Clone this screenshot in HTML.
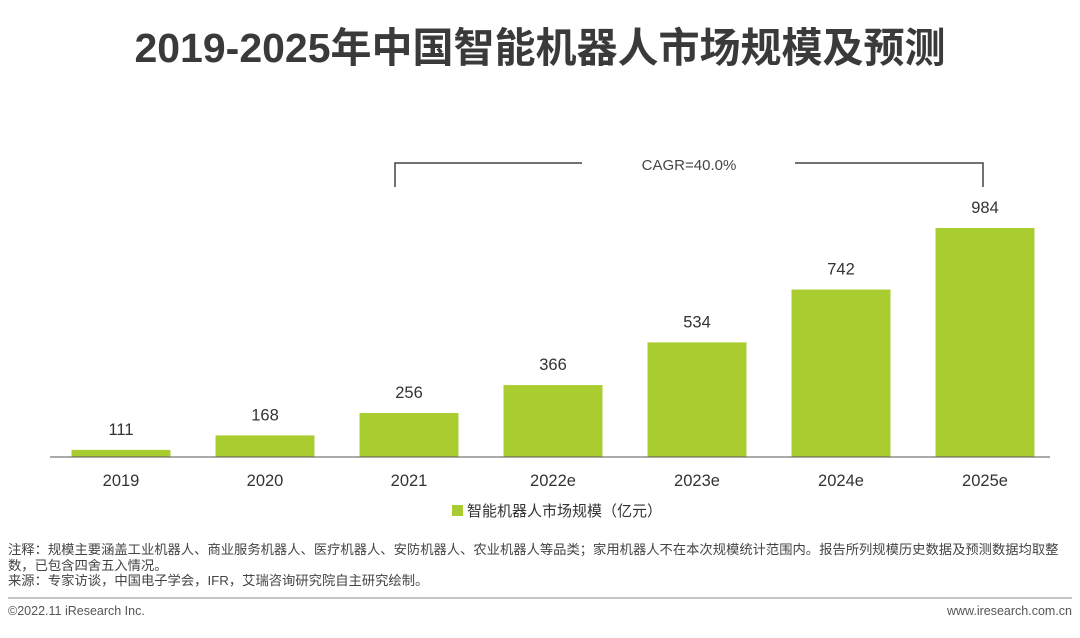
<!DOCTYPE html>
<html><head><meta charset="utf-8"><style>
body{margin:0;width:1080px;height:633px;background:#fff;overflow:hidden;font-family:"Liberation Sans","Noto Sans CJK SC",sans-serif;}
svg text{font-family:"Liberation Sans","Noto Sans CJK SC",sans-serif;}
</style></head><body>
<svg width="1080" height="633">
<text x="540" y="62" text-anchor="middle" font-size="41" font-weight="bold" fill="#3a3a3a">2019-2025年中国智能机器人市场规模及预测</text>
<g stroke="#444" stroke-width="1.5" fill="none">
<path d="M395,187 V163 H582"/><path d="M795,163 H983 V187"/>
</g>
<text x="689" y="170" text-anchor="middle" font-size="15" fill="#444">CAGR=40.0%</text>
<g id="bars"></g>
<line x1="50" y1="457" x2="1050" y2="457" stroke="#555" stroke-width="1"/>
<rect x="452" y="505" width="11" height="11" fill="#a9cd30"/>
<text x="467" y="516" font-size="15" fill="#333">智能机器人市场规模（亿元）</text>
<text x="8" y="554" font-size="13.3" fill="#444">注释：规模主要涵盖工业机器人、商业服务机器人、医疗机器人、安防机器人、农业机器人等品类；家用机器人不在本次规模统计范围内。报告所列规模历史数据及预测数据均取整</text>
<text x="8" y="570" font-size="13.3" fill="#444">数，已包含四舍五入情况。</text>
<text x="8" y="585" font-size="13.3" fill="#444">来源：专家访谈，中国电子学会，IFR，艾瑞咨询研究院自主研究绘制。</text>
<line x1="8" y1="598" x2="1072" y2="598" stroke="#888" stroke-width="1"/>
<text x="8" y="615" font-size="12.5" fill="#555">©2022.11 iResearch Inc.</text>
<text x="1072" y="615" text-anchor="end" font-size="12.5" fill="#555">www.iresearch.com.cn</text>
</svg>
<script>
const categories=["2019","2020","2021","2022e","2023e","2024e","2025e"];
const values=[111,168,256,366,534,742,984];
const yMin=83, yMax=984;
function yScale(v){return 457-(v-yMin)/(yMax-yMin)*229;}
function xScale(i){return 121+i*144;}
const g=document.getElementById('bars');
const NS="http://www.w3.org/2000/svg";
values.forEach((v,i)=>{
 const r=document.createElementNS(NS,'rect');
 r.setAttribute('x',xScale(i)-49.5);r.setAttribute('width',99);
 r.setAttribute('y',yScale(v));r.setAttribute('height',457-yScale(v));
 r.setAttribute('fill','#a9cd30');
 
 
 g.appendChild(r);
 const t=document.createElementNS(NS,'text');
 t.setAttribute('x',xScale(i));t.setAttribute('y',yScale(v)-15);
 t.setAttribute('text-anchor','middle');t.setAttribute('font-size','16.5');t.setAttribute('fill','#333');
 t.textContent=v;
 
 
 g.appendChild(t);
 const c=document.createElementNS(NS,'text');
 c.setAttribute('x',xScale(i));c.setAttribute('y',486);
 c.setAttribute('text-anchor','middle');c.setAttribute('font-size','16.5');c.setAttribute('fill','#333');
 c.textContent=categories[i];
 
 
 g.appendChild(c);
});
</script>
</body></html>
